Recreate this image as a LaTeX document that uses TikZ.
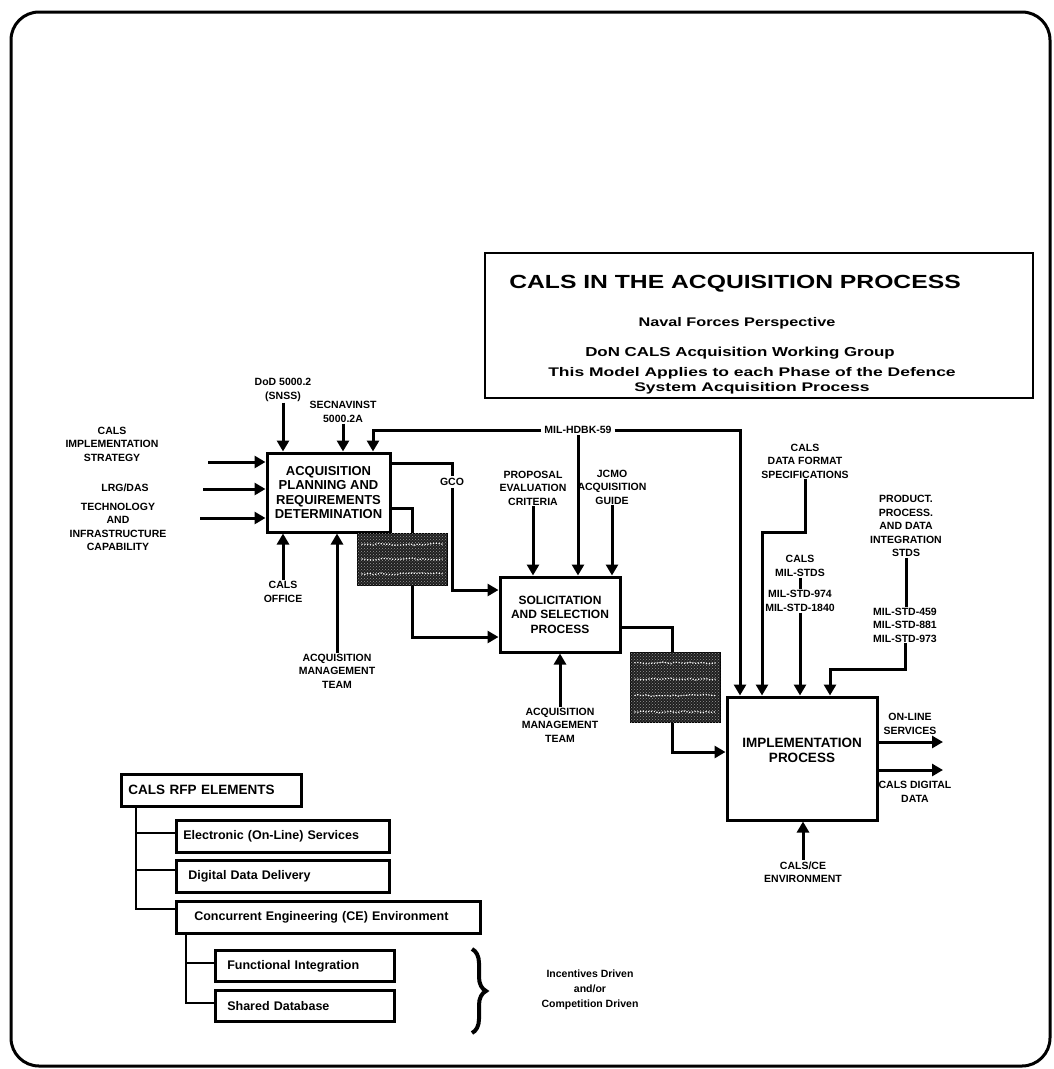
\documentclass[tikz,border=0pt]{standalone}
\usepackage{fontspec}
\setmainfont{Liberation Sans}
\newfontfamily\widesans[FakeStretch=1.3]{Liberation Sans}
\newfontfamily\widersans[FakeStretch=1.4]{Liberation Sans}
\usetikzlibrary{arrows.meta,calc,patterns,decorations.pathreplacing,decorations.pathmorphing}
\begin{document}
\begin{tikzpicture}[x=1pt,y=-1pt,
  lbl/.style={font=\bfseries\fontsize{10.5}{13.5}\selectfont, align=center, inner sep=1pt},
  procbox/.style={draw, line width=3pt, fill=white, align=center, inner sep=0pt,
    font=\bfseries\fontsize{12}{14.5}\selectfont},
  wire/.style={line width=3pt},
  flow/.style={wire, -{Triangle[length=11pt,width=12pt]}},
  tree/.style={line width=2.6pt},
  garble/.style={draw, line width=1pt, fill=black!88,
    postaction={pattern=crosshatch dots, pattern color=black!40}},
  scrib/.style={white, line width=1.3pt, dash pattern=on 1.2pt off 1.6pt,
    decorate, decoration={random steps, segment length=4pt, amplitude=1pt}},
  rfpbox/.style={draw, line width=2.6pt, anchor=north west, minimum height=32pt,
    align=left, inner xsep=7pt, font=\bfseries\fontsize{12.5}{14}\selectfont},
  ttl/.style={font=\widesans\bfseries\fontsize{#1}{#1}\selectfont, inner sep=0pt},
]
\useasboundingbox (0,0) rectangle (1054,1069);
\draw[line width=3pt, rounded corners=28pt] (11,12) rectangle (1050,1066);

% ---- heading panel ----
\node[draw, line width=2.6pt, minimum width=548pt, minimum height=145pt] (ttlbox) at (759,325.5) {};
\node[ttl=19] (h1) at (735,284) {CALS IN THE ACQUISITION PROCESS};
\node[ttl=12.5] (h2) at (737,323) {Naval Forces Perspective};
\node[ttl=13] (h3) at (740,353) {DoN CALS Acquisition Working Group};
\node[font=\widersans\bfseries\fontsize{12.5}{15}\selectfont, align=center, inner sep=0pt] (h4) at (752,381)
  {This Model Applies to each Phase of the Defence\\System Acquisition Process};

% ---- activity boxes ----
\node[procbox, minimum width=123pt, minimum height=79pt, font=\bfseries\fontsize{13}{14.5}\selectfont] (acq) at (328.5,492.5)
  {ACQUISITION\\PLANNING AND\\REQUIREMENTS\\DETERMINATION};
\node[procbox, minimum width=120pt, minimum height=75pt] (sol) at (560,614.5)
  {SOLICITATION\\AND SELECTION\\PROCESS};
\node[procbox, minimum width=150pt, minimum height=123pt,
  label={[font=\bfseries\fontsize{13.5}{15}\selectfont, align=center, yshift=8pt]center:IMPLEMENTATION\\PROCESS}]
  (imp) at (802,758.5) {};

% ---- illegible shaded output blocks ----
\node[garble, minimum width=90pt, minimum height=52pt] (dk1) at (402,559) {};
\node[garble, minimum width=90pt, minimum height=70pt] (dk2) at (675,687) {};
\foreach \f in {0.22,0.5,0.78}
  \draw[scrib] ($(dk1.north west)!\f!(dk1.south west)+(5,0)$) -- ($(dk1.north east)!\f!(dk1.south east)+(-5,0)$);
\foreach \f in {0.16,0.39,0.62,0.85}
  \draw[scrib] ($(dk2.north west)!\f!(dk2.south west)+(5,0)$) -- ($(dk2.north east)!\f!(dk2.south east)+(-5,0)$);

% ---- labels ----
\node[lbl] (strat) at (112,444) {CALS\\IMPLEMENTATION\\STRATEGY};
\node[lbl] (lrg) at (125,488) {LRG/DAS};
\node[lbl] (tech) at (118,527) {TECHNOLOGY\\AND\\INFRASTRUCTURE\\CAPABILITY};
\node[lbl] (dod) at (283,390) {DoD 5000.2\\(SNSS)};
\node[lbl] (secnav) at (343,412) {SECNAVINST\\5000.2A};
\node[lbl, fill=white, inner xsep=3pt] (hdbk) at (578,430) {MIL-HDBK-59};
\node[lbl] (calsoff) at (283,592) {CALS\\OFFICE};
\node[lbl] (amt1) at (337,671) {ACQUISITION\\MANAGEMENT\\TEAM};
\node[lbl] (prop) at (533,488) {PROPOSAL\\EVALUATION\\CRITERIA};
\node[lbl] (jcmo) at (612,487) {JCMO\\ACQUISITION\\GUIDE};
\node[lbl] (amt2) at (560,725) {ACQUISITION\\MANAGEMENT\\TEAM};
\node[lbl] (dfs) at (805,461) {CALS\\DATA FORMAT\\SPECIFICATIONS};
\node[lbl] (milstds) at (800,566) {CALS\\MIL-STDS};
\node[lbl] (std974) at (800,601) {MIL-STD-974\\MIL-STD-1840};
\node[lbl] (pds) at (906,526) {PRODUCT.\\PROCESS.\\AND DATA\\INTEGRATION\\STDS};
\node[lbl] (std459) at (905,625) {MIL-STD-459\\MIL-STD-881\\MIL-STD-973};
\node[lbl] (online) at (910,724) {ON-LINE\\SERVICES};
\node[lbl] (digital) at (915,792) {CALS DIGITAL\\DATA};
\node[lbl] (cace) at (803,872) {CALS/CE\\ENVIRONMENT};
\node[lbl, inner sep=2pt] (gco) at (452,482) {GCO};

% ---- bend points and free ends ----
\coordinate (inA1) at (208,462);
\coordinate (inA2) at (203,489);
\coordinate (inA3) at (200,518);
\coordinate (hdA) at (373,0);
\coordinate (hdI) at (740,0);
\coordinate (k1) at (412,0);
\coordinate (k2) at (672,0);
\coordinate (dfI) at (762,0);
\coordinate (pdI) at (830,0);
\coordinate (outOn) at (943,742);
\coordinate (outDig) at (943,770);

% ---- inputs, controls and mechanisms of the planning step ----
\draw[flow] (inA1) -- (inA1 -| acq.west);
\draw[flow] (inA2) -- (inA2 -| acq.west);
\draw[flow] (inA3) -- (inA3 -| acq.west);
\draw[flow] (dod.south) -- (dod.south |- acq.north);
\draw[flow] (secnav.south) -- (secnav.south |- acq.north);
\draw[flow] (hdbk.west) -| (hdA |- acq.north);
\draw[flow] (hdbk.east) -| (hdI |- imp.north);
\draw[flow] (hdbk.south) -- (hdbk.south |- sol.north);
\draw[flow] (calsoff.north) -- (calsoff.north |- acq.south);
\draw[flow] (amt1.north) -- (amt1.north |- acq.south);

% ---- planning outputs into solicitation ----
\draw[wire] ([yshift=-12pt]acq.north east) -| (gco.north);
\draw[flow] (gco.south) |- (sol.west |- 0,590);
\draw[wire] ([yshift=-57pt]acq.north east) -| (k1 |- dk1.north);
\draw[flow] (k1 |- dk1.south) |- (sol.west |- 0,637);

% ---- solicitation controls, mechanism and output ----
\draw[flow] (prop.south) -- (prop.south |- sol.north);
\draw[flow] (jcmo.south) -- (jcmo.south |- sol.north);
\draw[flow] (amt2.north) -- (amt2.north |- sol.south);
\draw[wire] (sol.east |- 0,627) -| (k2 |- dk2.north);
\draw[flow] (k2 |- dk2.south) |- (imp.west |- 0,752);

% ---- implementation controls, outputs, mechanism ----
\draw[flow] (dfs.south) -- ([yshift=-53pt]dfs.south) -| (dfI |- imp.north);
\draw[wire] (milstds.south) -- (std974.north);
\draw[flow] (std974.south) -- (std974.south |- imp.north);
\draw[wire] (pds.south) -- (pds.south |- std459.north);
\draw[flow] (std459.south) -- ([yshift=-26pt]std459.south) -| (pdI |- imp.north);
\draw[flow] (imp.east |- outOn) -- (outOn);
\draw[flow] (imp.east |- outDig) -- (outDig);
\draw[flow] (cace.north) -- (cace.north |- imp.south);

% ---- RFP element tree ----
\node[rfpbox, text width=166pt, font=\bfseries\fontsize{13.5}{15}\selectfont] (rfp) at (120,773) {CALS RFP ELEMENTS};
\node[rfpbox, text width=199pt] (elec) at (175,819) {Electronic (On-Line) Services};
\node[rfpbox, text width=189pt, inner xsep=12pt] (ddd) at (175,859) {Digital Data Delivery};
\node[rfpbox, text width=268pt, inner xsep=18pt] (ce) at (175,900) {Concurrent Engineering (CE) Environment};
\node[rfpbox, text width=155pt, inner xsep=12pt, minimum height=31pt] (func) at (214,949) {Functional Integration};
\node[rfpbox, text width=155pt, inner xsep=12pt, minimum height=31pt] (shared) at (214,989) {Shared Database};
\coordinate (t1) at (136,0);
\coordinate (t2) at (186,0);
\draw[tree] (t1 |- rfp.south) -- (t1 |- 0,909) -- (ce.west |- 0,909);
\draw[tree] (t1 |- 0,833) -- (elec.west |- 0,833);
\draw[tree] (t1 |- 0,870) -- (ddd.west |- 0,870);
\draw[tree] (t2 |- ce.south) -- (t2 |- 0,1003) -- (shared.west |- 0,1003);
\draw[tree] (t2 |- 0,963) -- (func.west |- 0,963);

% ---- brace and note ----
\coordinate (brT) at (472,949);
\coordinate (brB) at (472,1033);
\draw[line width=4pt, decorate, decoration={brace, amplitude=14pt}] (brT) -- (brB);
\node[font=\bfseries\fontsize{10.5}{15}\selectfont, align=center] (drv) at (590,990)
  {Incentives Driven\\and/or\\Competition Driven};
\end{tikzpicture}
\end{document}
